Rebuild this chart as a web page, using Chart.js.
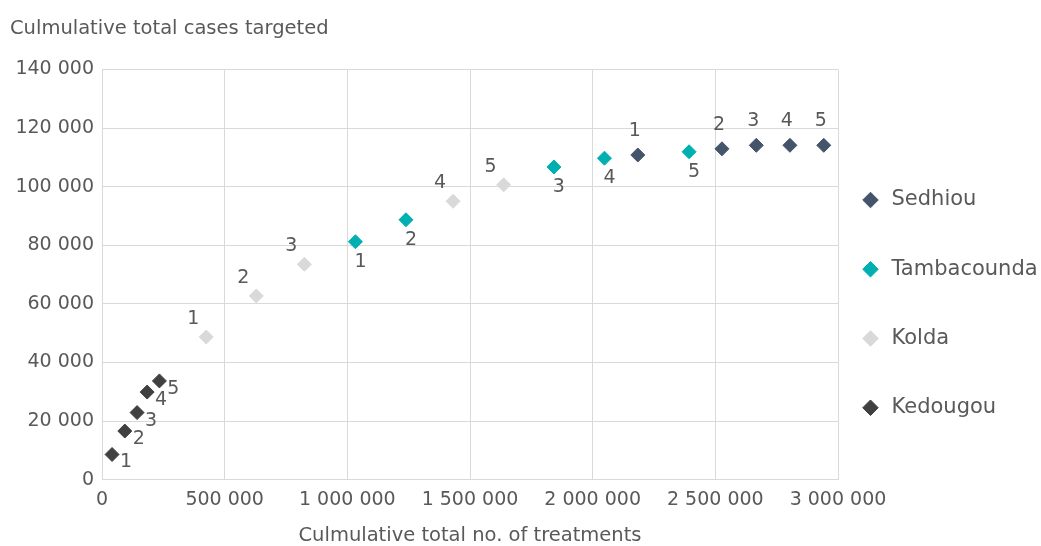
<!DOCTYPE html>
<html>
<head>
<meta charset="utf-8">
<script src="https://cdn.jsdelivr.net/npm/chart.js@4"></script>
<style>
  html, body { margin: 0; padding: 0; background: #fff; }
  #wrap { width: 1041px; height: 546px; }
</style>
</head>
<body>
<div id="wrap"><canvas id="myChart"></canvas></div>
<script>
// values
const regions = ["Sedhiou", "Tambacounda", "Kolda", "Kedougou"];
const pointLabels = ["1", "2", "3", "4", "5"];

const sedhiouX = [2184000, 2527000, 2667000, 2804000, 2942000];
const sedhiouY = [110800, 112900, 114100, 114100, 114100];

const tambaX = [1033000, 1239000, 1842000, 2048000, 2393000];
const tambaY = [81200, 88700, 106700, 109700, 111900];

const koldaX = [425000, 629000, 825000, 1431000, 1637000];
const koldaY = [48700, 62700, 73500, 95000, 100600];

const kedougouX = [41000, 93000, 143000, 184000, 234000];
const kedougouY = [8600, 16600, 22900, 29900, 33700];

const colors = ['#44546a', '#00b0b0', '#d9d9d9', '#404040'];
// where the 1..5 label sits relative to each marker
const labelOffsets = [[-3, -24], [5, 20], [-13, -18], [14, 8]];

const fontFamily = "'DejaVu Sans', sans-serif";
const textColor = '#595959';

function toPoints(xs, ys) {
    return xs.map((x, i) => ({ x: x, y: ys[i] }));
}

function fmt(v) {
    return String(v).replace(/\B(?=(\d{3})+(?!\d))/g, ' ');
}

const allX = [sedhiouX, tambaX, koldaX, kedougouX];
const allY = [sedhiouY, tambaY, koldaY, kedougouY];

// draws the small 1-5 numbers next to the markers
const numberLabels = {
    id: 'numberLabels',
    afterDatasetsDraw(chart) {
        const ctx = chart.ctx;
        ctx.save();
        ctx.font = "19px " + fontFamily;
        ctx.fillStyle = textColor;
        ctx.textAlign = 'center';
        ctx.textBaseline = 'middle';
        chart.data.datasets.forEach((ds, di) => {
            const meta = chart.getDatasetMeta(di);
            const off = labelOffsets[di];
            meta.data.forEach((pt, i) => {
                ctx.fillText(pointLabels[i], pt.x + off[0], pt.y + off[1]);
            });
        });
        ctx.restore();
    }
};

var ctx = document.getElementById('myChart').getContext('2d');
var myChart = new Chart(ctx, {
    type: 'scatter',
    data: {
        datasets: regions.map((name, i) => ({
            label: name,
            data: toPoints(allX[i], allY[i]),
            backgroundColor: colors[i],
            borderColor: colors[i],
            borderWidth: 1,
            pointStyle: 'rectRot',
            pointRadius: 7,
            pointHoverRadius: 7
        }))
    },
    options: {
        responsive: true,
        maintainAspectRatio: false,
        animation: false,
        layout: { padding: { left: 10, right: 0, top: 0, bottom: 0 } },
        plugins: {
            title: {
                display: true,
                text: 'Culmulative total cases targeted',
                align: 'start',
                color: textColor,
                font: { family: fontFamily, size: 19.5, weight: 'normal' },
                padding: { top: 17, bottom: 29 }
            },
            legend: {
                position: 'right',
                maxWidth: 203,
                // blank title only pushes the entries down
                title: {
                    display: true,
                    text: ' ',
                    font: { size: 10 },
                    padding: { top: 38, bottom: 38 }
                },
                labels: {
                    usePointStyle: true,
                    pointStyle: 'rectRot',
                    boxWidth: 21,
                    boxHeight: 11,
                    padding: 22,
                    color: textColor,
                    font: { family: fontFamily, size: 21, lineHeight: 2.25 },
                    generateLabels(chart) {
                        const items = Chart.defaults.plugins.legend.labels.generateLabels(chart);
                        items.forEach(it => { it.text = [it.text]; });
                        return items;
                    }
                }
            },
            tooltip: { enabled: false }
        },
        scales: {
            x: {
                min: 0,
                max: 3000000,
                ticks: {
                    stepSize: 500000,
                    color: textColor,
                    padding: 9,
                    maxRotation: 0,
                    font: { family: fontFamily, size: 19 },
                    callback: (v) => fmt(v)
                },
                grid: { color: '#d9d9d9', drawTicks: false },
                border: { color: '#d9d9d9' },
                title: {
                    display: true,
                    text: 'Culmulative total no. of treatments',
                    color: textColor,
                    font: { family: fontFamily, size: 19.5, lineHeight: 1 },
                    padding: { top: 6, bottom: 0 }
                }
            },
            y: {
                min: 0,
                max: 140000,
                afterFit(scale) { scale.width = 92; },
                ticks: {
                    stepSize: 20000,
                    color: textColor,
                    padding: 8,
                    font: { family: fontFamily, size: 19 },
                    callback: (v) => fmt(v)
                },
                grid: { color: '#d9d9d9', drawTicks: false },
                border: { color: '#d9d9d9' }
            }
        }
    },
    plugins: [numberLabels]
});
</script>
</body>
</html>
